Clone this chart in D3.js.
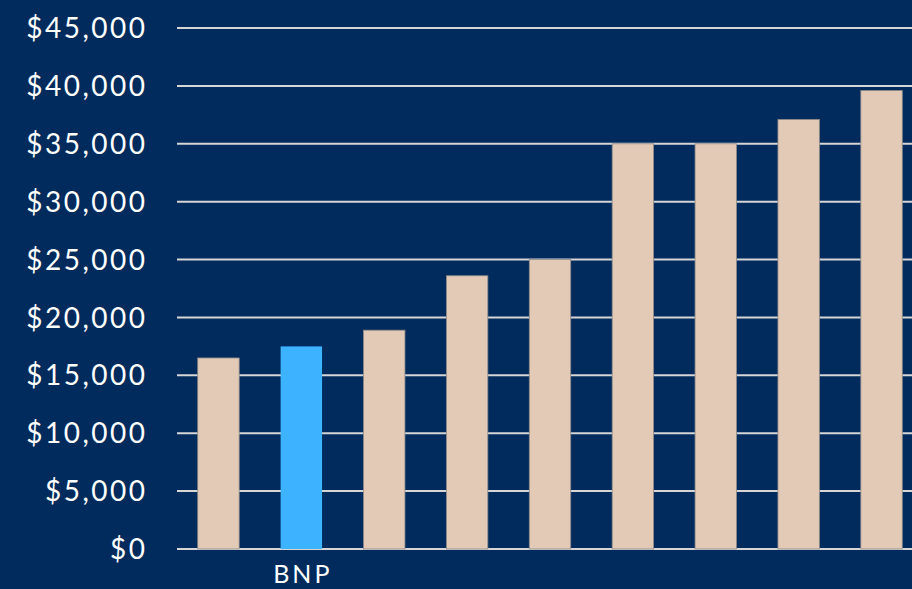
<!DOCTYPE html>
<html>
<head>
<meta charset="utf-8">
<script src="https://cdn.jsdelivr.net/npm/d3@7"></script>
<style>
  html, body { margin: 0; padding: 0; background: #012b5c; }
  svg { display: block; }
</style>
</head>
<body>
<svg id="chart" width="912" height="589"></svg>
<script>
const categories = ["A", "BNP", "C", "D", "E", "F", "G", "H", "I"];
const categoryLabels = ["", "BNP", "", "", "", "", "", "", ""];
const values = [16500, 17500, 18900, 23600, 25000, 35000, 35000, 37100, 39600];
const highlight = ["BNP"];
const yTicks = [0, 5000, 10000, 15000, 20000, 25000, 30000, 35000, 40000, 45000];

const W = 912, H = 589;
const margin = { left: 177, right: -11, top: 28, bottom: 40 };
const svg = d3.select("#chart");

svg.append("rect").attr("width", W).attr("height", H).attr("fill", "#012b5c");

const x = d3.scaleBand()
  .domain(categories)
  .range([margin.left, W - margin.right])
  .paddingInner(0.5)
  .paddingOuter(0.25);

const y = d3.scaleLinear()
  .domain([0, 45000])
  .range([H - margin.bottom, margin.top]);

const fmt = v => "$" + d3.format(",")(v);

// gridlines
svg.append("g")
  .selectAll("line")
  .data(yTicks)
  .join("line")
  .attr("x1", margin.left)
  .attr("x2", W)
  .attr("y1", d => y(d))
  .attr("y2", d => y(d))
  .attr("stroke", "#d6d6d6")
  .attr("stroke-width", 2);

// y labels
const yLS = 2.5;
svg.append("g")
  .selectAll("text")
  .data(yTicks)
  .join("text")
  .attr("x", 145 + yLS)
  .attr("y", d => y(d))
  .attr("dy", "0.36em")
  .attr("text-anchor", "end")
  .attr("fill", "#ffffff")
  .style("font-family", "Lato, 'Open Sans', sans-serif")
  .style("font-size", "28px")
  .style("letter-spacing", yLS + "px")
  .text(d => fmt(d));

// bars
svg.append("g")
  .selectAll("rect")
  .data(categories)
  .join("rect")
  .attr("x", d => x(d))
  .attr("width", x.bandwidth())
  .attr("y", (d, i) => y(values[i]))
  .attr("height", (d, i) => y(0) - y(values[i]))
  .attr("fill", d => highlight.includes(d) ? "#3db2ff" : "#e2cab7")
  .attr("stroke", d => highlight.includes(d) ? "none" : "#8d8a88")
  .attr("stroke-width", 0.8);

// x labels
const xLS = 3;
svg.append("g")
  .selectAll("text")
  .data(categories)
  .join("text")
  .attr("x", d => x(d) + x.bandwidth() / 2 + xLS / 2)
  .attr("y", 583)
  .attr("text-anchor", "middle")
  .attr("fill", "#ffffff")
  .style("font-family", "Lato, 'Open Sans', sans-serif")
  .style("font-size", "25px")
  .style("letter-spacing", xLS + "px")
  .text((d, i) => categoryLabels[i]);
</script>
</body>
</html>
